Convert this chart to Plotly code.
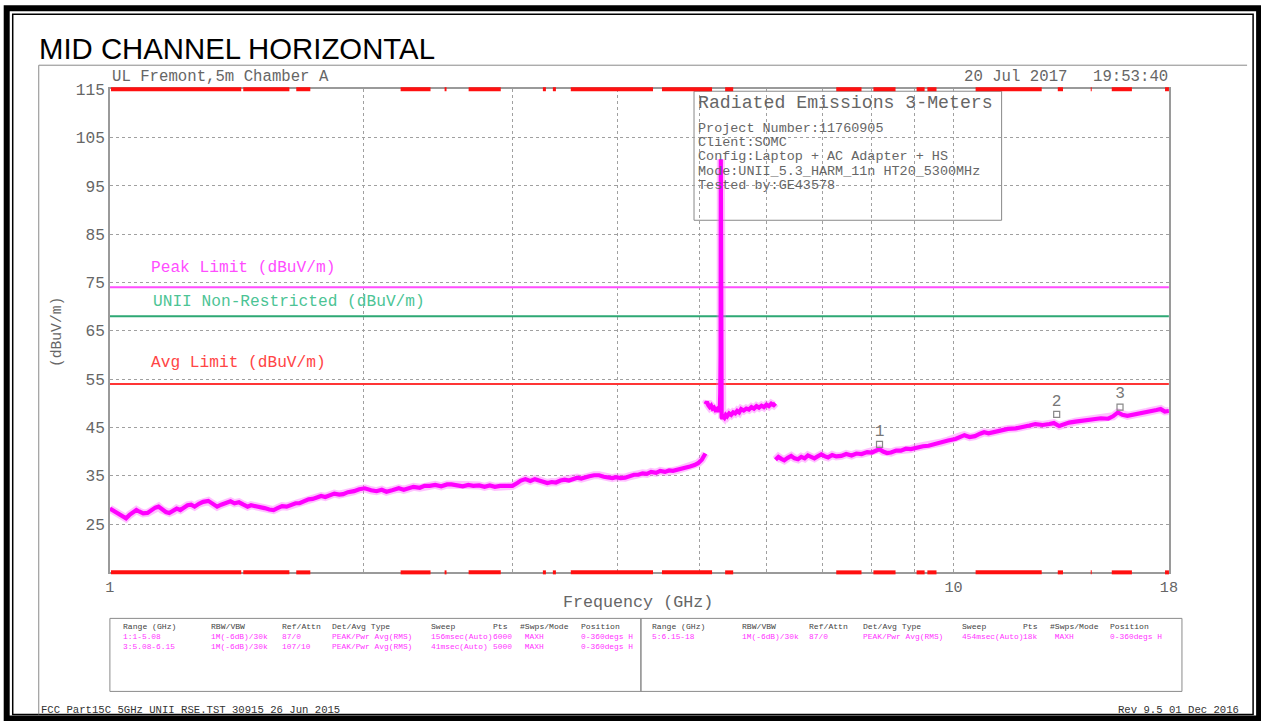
import plotly.graph_objects as go

W, H = 1261, 721

# ---------------- data ----------------
seg1_freq = [1.000, 1.012, 1.025, 1.035, 1.045, 1.055, 1.065, 1.075, 1.083, 1.095, 1.108, 1.12, 1.132, 1.142,
             1.152, 1.165, 1.176, 1.19, 1.2, 1.212, 1.225, 1.236, 1.248, 1.26, 1.275, 1.29, 1.308, 1.32, 1.33,
             1.34, 1.355, 1.372, 1.39, 1.405, 1.422, 1.44, 1.456, 1.47, 1.49, 1.508, 1.525, 1.545, 1.563, 1.58,
             1.6, 1.62, 1.64, 1.66, 1.678, 1.7, 1.72, 1.739, 1.76, 1.78, 1.8, 1.823, 1.845, 1.87, 1.89, 1.915,
             1.947, 1.975, 2.005, 2.04, 2.07, 2.1, 2.127, 2.16, 2.2, 2.23, 2.256, 2.29, 2.33, 2.36, 2.394, 2.43,
             2.47, 2.51, 2.54, 2.58, 2.62, 2.66, 2.696, 2.74, 2.78, 2.82, 2.86, 2.9, 2.95, 3.0, 3.04, 3.07,
             3.108, 3.15, 3.19, 3.22, 3.26, 3.3, 3.34, 3.378, 3.42, 3.46, 3.5, 3.54, 3.58, 3.62, 3.66, 3.7,
             3.75, 3.8, 3.85, 3.9, 3.94, 3.98, 4.03, 4.08, 4.13, 4.18, 4.23, 4.28, 4.33, 4.38, 4.44, 4.49,
             4.55, 4.6, 4.65, 4.71, 4.76, 4.82, 4.87, 4.93, 4.98, 5.03, 5.06, 5.08]
seg1_level = [28.2, 27.6, 27.0, 26.6, 26.2, 26.9, 27.5, 27.9, 27.6, 27.2, 27.3, 27.9, 28.4, 28.6,
              28.0, 27.5, 27.3, 27.7, 28.2, 27.9, 28.5, 28.9, 29.0, 28.6, 29.2, 29.6, 29.8, 29.3, 28.8,
              28.6, 29.0, 29.4, 29.7, 29.3, 29.5, 29.0, 28.6, 28.9, 28.7, 28.6, 28.3, 28.0, 27.9, 28.3,
              28.7, 28.6, 28.9, 29.3, 29.3, 29.7, 30.1, 30.2, 30.5, 30.8, 30.6, 31.0, 31.3, 31.1, 31.2, 31.6,
              31.8, 32.2, 32.4, 32.0, 31.8, 32.1, 31.7, 32.0, 32.4, 32.1, 32.3, 32.7, 32.5, 32.9, 32.9, 33.1,
              32.8, 33.2, 33.2, 33.0, 32.8, 33.1, 32.9, 33.0, 32.7, 33.0, 32.7, 32.9, 32.8, 32.9, 33.5, 34.0,
              34.3, 33.9, 34.3, 34.1, 33.8, 33.5, 33.7, 33.6, 34.0, 34.2, 34.0, 34.3, 34.6, 34.4, 34.7, 34.9,
              35.1, 35.1, 34.8, 34.6, 34.5, 34.7, 34.5, 34.6, 34.9, 35.2, 35.2, 35.5, 35.4, 35.8, 35.6, 36.0,
              35.8, 36.1, 36.0, 36.2, 36.5, 36.7, 36.9, 37.2, 37.6, 38.3, 39.0, 39.6]

seg2_freq = [5.08, 5.10, 5.12, 5.14, 5.16, 5.18, 5.2, 5.22, 5.24, 5.26, 5.275, 5.285, 5.29, 5.295, 5.298,
             5.301, 5.303, 5.305, 5.307, 5.31, 5.32, 5.33, 5.35, 5.37, 5.39, 5.42, 5.45, 5.48, 5.51, 5.54,
             5.57, 5.6, 5.64, 5.68, 5.72, 5.76, 5.8, 5.84, 5.88, 5.92, 5.96, 6.0, 6.04, 6.08, 6.12, 6.15]
seg2_level = [49.8, 50.3, 49.6, 49.2, 49.5, 48.9, 49.1, 48.6, 48.8, 48.3, 48.7, 49.5, 52.0, 60.0, 100.5,
              62.0, 52.0, 71.0, 58.0, 47.2, 46.8, 47.3, 47.0, 47.6, 47.3, 47.9, 47.6, 48.1, 47.9, 48.4,
              48.1, 48.8, 48.5, 48.9, 48.7, 49.2, 48.9, 49.4, 49.1, 49.5, 49.2, 49.7, 49.4, 49.9, 49.6, 50.0]

seg3_freq = [6.15, 6.2, 6.25, 6.3, 6.36, 6.42, 6.48, 6.54, 6.6, 6.66, 6.72, 6.78, 6.84, 6.9, 6.97, 7.04,
             7.1, 7.18, 7.26, 7.36, 7.46, 7.57, 7.67, 7.78, 7.9, 8.0, 8.1, 8.17, 8.25, 8.34, 8.43, 8.55,
             8.66, 8.78, 8.9, 9.05, 9.2, 9.34, 9.5, 9.68, 9.85, 10.05, 10.2, 10.3, 10.45, 10.6, 10.75,
             10.87, 11.0, 11.17, 11.4, 11.6, 11.85, 12.06, 12.3, 12.5, 12.75, 12.99, 13.15, 13.34, 13.5,
             13.71, 13.95, 14.18, 14.45, 14.68, 14.95, 15.25, 15.45, 15.66, 15.85, 16.07, 16.4, 16.7,
             16.95, 17.15, 17.4, 17.6, 17.8, 18.0]
seg3_level = [38.3, 38.9, 38.5, 38.2, 38.7, 39.1, 38.6, 38.4, 38.9, 38.6, 39.2, 38.9, 38.6, 39.0, 39.4, 39.0,
              38.8, 39.3, 39.0, 39.1, 39.5, 39.2, 39.6, 39.5, 39.9, 39.8, 40.3, 40.5, 40.0, 39.7, 39.8, 40.2,
              40.2, 40.6, 40.5, 40.9, 41.1, 41.2, 41.6, 41.9, 42.3, 42.6, 43.2, 43.4, 43.0, 43.2, 43.7,
              44.0, 43.8, 44.1, 44.4, 44.7, 44.8, 45.0, 45.4, 45.7, 45.5, 45.7, 45.9, 45.3, 45.6,
              46.0, 46.2, 46.4, 46.6, 46.7, 46.9, 46.8, 47.3, 48.1, 47.6, 47.4, 47.7, 47.8,
              48.2, 48.4, 48.6, 48.8, 48.3, 48.4]

peak_limit = 74
unii_limit = 68
avg_limit = 54
limit_freq = [1, 18]

marker_freq = [8.17, 13.25, 15.75]
marker_level = [41.5, 47.7, 49.2]
marker_labels = ["1", "2", "3"]

red_bar_start = [1.003, 1.439, 1.663, 2.211, 2.493, 2.662, 3.26, 3.35, 3.518, 4.512, 5.361, 7.26, 8.035,
                 9.04, 9.31, 10.62, 13.29, 14.54, 15.4, 17.81]
red_bar_end = [1.431, 1.632, 1.728, 2.399, 2.506, 2.906, 3.287, 3.378, 4.403, 5.173, 5.48, 7.778, 8.535,
               9.24, 9.545, 12.72, 13.48, 14.58, 16.27, 18.0]

y_ticks = [25, 35, 45, 55, 65, 75, 85, 95, 105, 115]
x_ticks = [1, 2, 3, 4, 5, 6, 7, 8, 9, 10, 18]
x_ticktext = ["1", "", "", "", "", "", "", "", "", "10", "18"]

table_headers = ["Range (GHz)", "RBW/VBW", "Ref/Attn", "Det/Avg Type", "Sweep", "Pts", "#Swps/Mode", "Position"]
table_left_rows = [
    ["1:1-5.08", "1M(-6dB)/30k", "87/0", "PEAK/Pwr Avg(RMS)", "156msec(Auto)", "6000", " MAXH", "0-360degs H"],
    ["3:5.08-6.15", "1M(-6dB)/30k", "107/10", "PEAK/Pwr Avg(RMS)", "41msec(Auto)", "5000", " MAXH", "0-360degs H"],
]
table_right_rows = [
    ["5:6.15-18", "1M(-6dB)/30k", "87/0", "PEAK/Pwr Avg(RMS)", "454msec(Auto)", "18k", " MAXH", "0-360degs H"],
]

info_title = "Radiated Emissions 3-Meters"
info_lines = ["Project Number:11760905", "Client:SOMC", "Config:Laptop + AC Adapter + HS",
              "Mode:UNII_5.3_HARM_11n HT20_5300MHz", "Tested by:GE43578"]

# ---------------- layout helpers ----------------
# the captured picture shows the page slightly shrunk and offset; compensate
SX, OX = 0.987, 5.3
SY, OY = 0.990, 5.8
SF = (SX + SY) / 2


def px(x):
    return ((x - OX) / SX) / W


def py(y):
    return 1 - ((y - OY) / SY) / H


def fs(s):
    return s / SF


MONO = "Liberation Mono"
GRAY = "#666666"
TRACE = "#ff00ff"

fig = go.Figure()

fig.add_trace(go.Scatter(x=limit_freq, y=[peak_limit] * 2, mode="lines",
                         line=dict(color="#ff4dff", width=2), hoverinfo="skip"))
fig.add_trace(go.Scatter(x=limit_freq, y=[unii_limit] * 2, mode="lines",
                         line=dict(color="#2ea874", width=2), hoverinfo="skip"))
fig.add_trace(go.Scatter(x=limit_freq, y=[avg_limit] * 2, mode="lines",
                         line=dict(color="#ff3535", width=2), hoverinfo="skip"))

for fx, fy in [(seg1_freq, seg1_level), (seg2_freq, seg2_level), (seg3_freq, seg3_level)]:
    fig.add_trace(go.Scatter(x=fx, y=fy, mode="lines",
                             line=dict(color="#ff66ff", width=8), opacity=0.4, hoverinfo="skip"))
    fig.add_trace(go.Scatter(x=fx, y=fy, mode="lines",
                             line=dict(color=TRACE, width=4.2), hoverinfo="skip"))

fig.add_trace(go.Scatter(x=marker_freq, y=marker_level, mode="markers+text", text=marker_labels,
                         textposition="top center",
                         textfont=dict(family=MONO, size=fs(16), color="#777777"),
                         marker=dict(symbol="square-open", size=6, color="#888888", line=dict(width=1.2)),
                         cliponaxis=False, hoverinfo="skip"))

shapes = []
ytop = py(88)
ybot = py(571)
for a, b in zip(red_bar_start, red_bar_end):
    for yy in (ytop, ybot):
        shapes.append(dict(type="line", xref="x", yref="paper", x0=a, x1=b, y0=yy, y1=yy,
                           line=dict(color="#ff1010", width=4), layer="above"))

shapes.append(dict(type="rect", xref="paper", yref="paper", x0=px(693), x1=px(1000), y0=py(219), y1=py(90),
                   fillcolor="white", line=dict(color="#888888", width=1), layer="between"))

shapes.append(dict(type="rect", xref="paper", yref="paper", x0=px(7), x1=px(1257), y0=py(717), y1=py(7),
                   line=dict(color="black", width=6), layer="above"))
shapes.append(dict(type="rect", xref="paper", yref="paper", x0=px(13), x1=px(1251), y0=py(713), y1=py(13),
                   line=dict(color="black", width=1.5), layer="above"))
shapes.append(dict(type="line", xref="paper", yref="paper", x0=px(39), x1=px(1245), y0=py(64), y1=py(64),
                   line=dict(color="#8a8a8a", width=1)))
shapes.append(dict(type="line", xref="paper", yref="paper", x0=px(39), x1=px(39), y0=py(64), y1=py(713),
                   line=dict(color="#8a8a8a", width=1)))
shapes.append(dict(type="rect", xref="paper", yref="paper", x0=px(110), x1=px(640), y0=py(690), y1=py(617),
                   line=dict(color="#8a8a8a", width=1)))
shapes.append(dict(type="rect", xref="paper", yref="paper", x0=px(640), x1=px(1180), y0=py(690), y1=py(617),
                   line=dict(color="#8a8a8a", width=1)))

ann = []


def text(x, y, s, size, color=GRAY, family=MONO, xanchor="left", yanchor="middle", angle=0):
    ann.append(dict(xref="paper", yref="paper", x=px(x), y=py(y), text=s, showarrow=False,
                    xanchor=xanchor, yanchor=yanchor, textangle=angle, borderpad=0,
                    font=dict(family=family, size=fs(size), color=color)))


text(38, 47, "MID CHANNEL HORIZONTAL", 29, color="black", family="Liberation Sans")
text(111, 76, "UL Fremont,5m Chamber A", 15.5)
text(961, 76, "20 Jul 2017", 15.5)
text(1167, 76, "19:53:40", 15.5, xanchor="right")

text(696, 102, info_title, 18)
for i, line in enumerate(info_lines):
    text(696, 127 + i * 14.3, line, 13.3)

text(150, 267, "Peak Limit (dBuV/m)", 16, color="#ff4dff")
text(152, 301, "UNII Non-Restricted (dBuV/m)", 16, color="#4cc495")
text(150, 362, "Avg Limit (dBuV/m)", 16, color="#ff4545")

text(637, 601, "Frequency (GHz)", 16.5, xanchor="center")
text(57, 331, "(dBuV/m)", 14.5, xanchor="center", angle=-90)

left_cols = [122, 210, 281, 331, 429, 491, 518, 579]
right_cols = [650, 740, 807, 861, 959, 1020, 1047, 1107]
for cols, rows in [(left_cols, table_left_rows), (right_cols, table_right_rows)]:
    for c, hdr in zip(cols, table_headers):
        text(c, 625.5, hdr, 8, color="#444444")
    for r, row in enumerate(rows):
        for c, val in zip(cols, row):
            text(c, 635.5 + r * 9.5, val, 7.8, color="#ff33ff")

text(40, 709, "FCC Part15C 5GHz UNII RSE.TST 30915 26 Jun 2015", 10.5, color="#333333")
text(1238, 709, "Rev 9.5 01 Dec 2016", 10.5, color="#333333", xanchor="right")

fig.update_layout(
    width=W, height=H, autosize=False,
    margin=dict(l=0, r=0, t=0, b=0),
    paper_bgcolor="white", plot_bgcolor="white",
    showlegend=False,
    shapes=shapes, annotations=ann,
    xaxis=dict(type="log", range=[0, 1.2552725], domain=[px(110), px(1167)],
               tickvals=x_ticks, ticktext=x_ticktext, ticks="",
               showgrid=True, gridcolor="#a0a0a0", griddash="dot", gridwidth=1,
               showline=True, mirror=True, linecolor="#9a9a9a", linewidth=1.5,
               zeroline=False, tickfont=dict(family=MONO, size=fs(15), color=GRAY)),
    yaxis=dict(range=[15, 115], domain=[py(571), py(88)],
               tickvals=y_ticks, ticktext=[str(v) for v in y_ticks], ticks="",
               showgrid=True, gridcolor="#a0a0a0", griddash="dot", gridwidth=1,
               showline=True, mirror=True, linecolor="#9a9a9a", linewidth=1.5,
               zeroline=False, tickfont=dict(family=MONO, size=fs(16), color=GRAY)),
)

page_css = (
    "var de=document.documentElement, b=document.body;"
    "de.style.margin='0'; de.style.padding='0'; de.style.overflow='hidden';"
    "b.style.margin='0'; b.style.padding='0'; b.style.overflow='hidden';"
)

fig.write_html("out.html", config={"displayModeBar": False}, post_script=page_css)
